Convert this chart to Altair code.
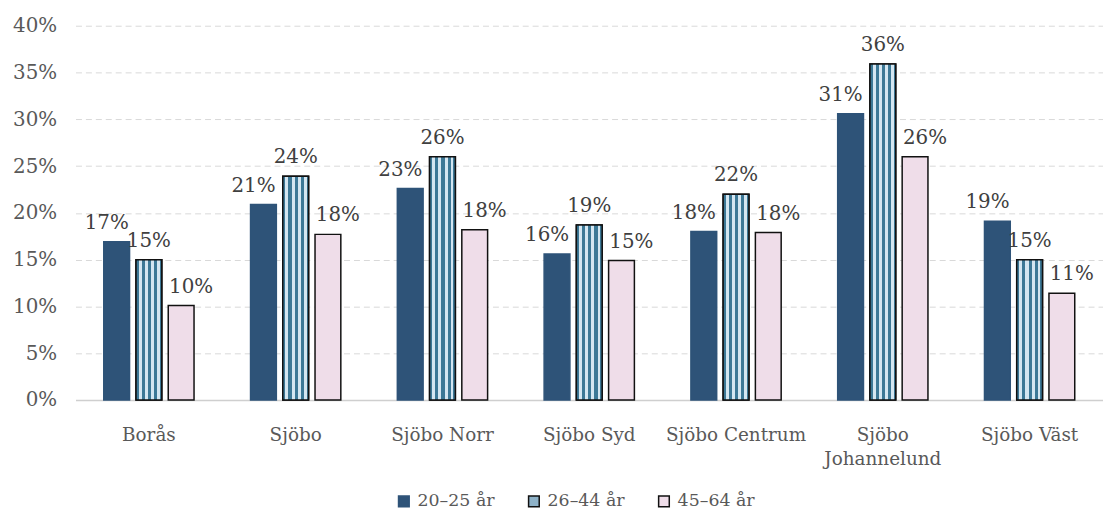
import altair as alt
import pandas as pd

categories = ["Borås", "Sjöbo", "Sjöbo Norr", "Sjöbo Syd", "Sjöbo Centrum", "Sjöbo Johannelund", "Sjöbo Väst"]
groups = ["20–25 år", "26–44 år", "45–64 år"]
v_20_25 = [0.169, 0.209, 0.226, 0.156, 0.180, 0.306, 0.191]
v_26_44 = [0.150, 0.239, 0.260, 0.187, 0.220, 0.359, 0.150]
v_45_64 = [0.101, 0.177, 0.182, 0.149, 0.179, 0.260, 0.114]

rows = []
for g, vals in zip(groups, [v_20_25, v_26_44, v_45_64]):
    for c, v in zip(categories, vals):
        rows.append({"område": c, "grupp": g, "andel": v})
df = pd.DataFrame(rows)

FONT = "DejaVu Serif"

x = alt.X("område:N", sort=categories, title=None,
          scale=alt.Scale(paddingInner=0.385, paddingOuter=0.1925),
          axis=alt.Axis(labelAngle=0, labelFontSize=18.5, labelColor="#595959", labelPadding=26,
                        ticks=False, domainColor="#cfcfcf", domainWidth=1.5, labelLineHeight=24,
                        labelExpr="datum.value == 'Sjöbo Johannelund' ? ['Sjöbo', 'Johannelund'] : datum.value"))
xoff = alt.XOffset("grupp:N", sort=groups, scale=alt.Scale(paddingInner=0.2))
y = alt.Y("andel:Q", title=None,
          scale=alt.Scale(domain=[0, 0.4], nice=False),
          axis=alt.Axis(format=".0%", values=[0, 0.05, 0.1, 0.15, 0.2, 0.25, 0.3, 0.35, 0.4],
                        labelFontSize=20, labelColor="#595959", labelPadding=19, ticks=False,
                        domain=False, gridColor="#d9d9d9", gridDash=[6, 4], gridWidth=1))

color = alt.Color("grupp:N", sort=groups, title=None,
                  scale=alt.Scale(domain=groups, range=["#2e5378", "#8eb2c8", "#efdde9"]),
                  legend=alt.Legend(orient="none", legendX=322, legendY=470, direction="horizontal",
                                    symbolType="square", symbolSize=115, labelFontSize=17.5,
                                    labelColor="#595959", columnPadding=30, symbolStrokeWidth=1.5,
                                    labelOffset=5))
stroke = alt.Stroke("grupp:N", sort=groups, title=None,
                    scale=alt.Scale(domain=groups, range=["#2e5378", "#111111", "#111111"]))

dark, light = "#3c7896", "#d4e6f1"
edges = [0.0, 0.10, 0.22, 0.34, 0.46, 0.58, 0.70, 0.82, 0.92, 1.0]
stops = []
for i in range(len(edges) - 1):
    c = dark if i % 2 == 0 else light
    stops.append(alt.GradientStop(color=c, offset=edges[i]))
    stops.append(alt.GradientStop(color=c, offset=edges[i + 1]))
dots = alt.Gradient(gradient="linear", x1=0, x2=1, y1=0, y2=0, stops=stops)

bars = alt.Chart(df).mark_bar(strokeWidth=1.5).encode(x=x, xOffset=xoff, y=y, color=color, stroke=stroke)
dotted = alt.Chart(df).transform_filter(alt.datum.grupp == groups[1]).mark_bar(
    fill=dots, stroke="#111111", strokeWidth=1.5).encode(x=x, xOffset=xoff, y=y)

label_layers = []
for g, shift in zip(groups, [-10, 0, 10]):
    label_layers.append(
        alt.Chart(df).transform_filter(alt.datum.grupp == g).mark_text(
            dy=-13, dx=shift, baseline="alphabetic", fontSize=20, color="#404040").encode(
            x=x, xOffset=xoff, y=y, text=alt.Text("andel:Q", format=".0%"))
    )

chart = alt.layer(bars, dotted, *label_layers).properties(
    width=1035, height=377,
    autosize=alt.AutoSizeParams(type="none"),
    padding={"left": 68, "top": 16, "right": 0, "bottom": 114},
).configure(font=FONT).configure_view(stroke=None)

chart.save("out.html", embed_options={"renderer": "svg", "actions": False})
